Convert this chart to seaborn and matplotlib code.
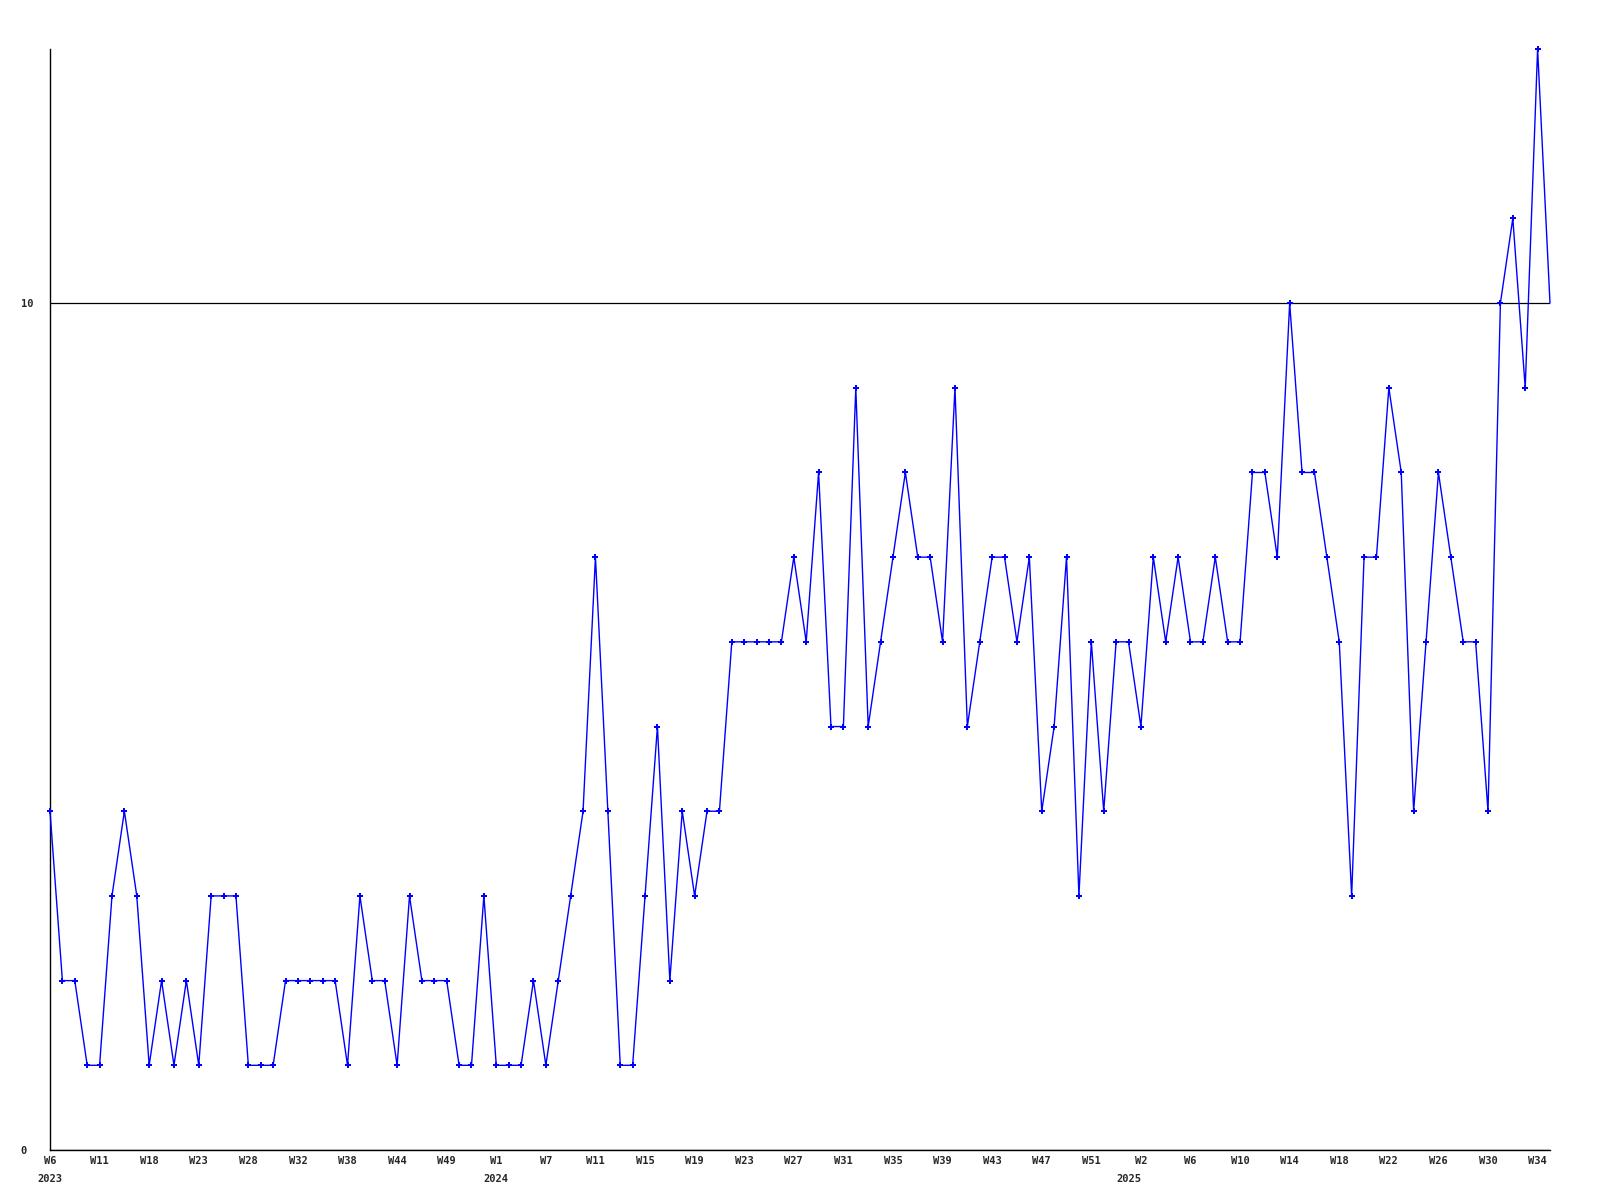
import matplotlib
matplotlib.use("Agg")
import matplotlib.pyplot as plt
import matplotlib.transforms as mtransforms
import seaborn as sns
import pandas as pd
import numpy as np

# ---- data ----
values = [4, 2, 2, 1, 1, 3, 4, 3, 1, 2, 1, 2, 1, 3, 3, 3, 1, 1, 1, 2,
          2, 2, 2, 2, 1, 3, 2, 2, 1, 3, 2, 2, 2, 1, 1, 3, 1, 1, 1, 2,
          1, 2, 3, 4, 7, 4, 1, 1, 3, 5, 2, 4, 3, 4, 4, 6, 6, 6, 6, 6,
          7, 6, 8, 5, 5, 9, 5, 6, 7, 8, 7, 7, 6, 9, 5, 6, 7, 7, 6, 7,
          4, 5, 7, 3, 6, 4, 6, 6, 5, 7, 6, 7, 6, 6, 7, 6, 6, 8, 8, 7,
          10, 8, 8, 7, 6, 3, 7, 7, 9, 8, 4, 6, 8, 7, 6, 6, 4, 10, 11, 9,
          13, 10]
tick_labels = ["W6", "W11", "W18", "W23", "W28", "W32", "W38", "W44", "W49",
               "W1", "W7", "W11", "W15", "W19", "W23", "W27", "W31", "W35",
               "W39", "W43", "W47", "W51", "W2", "W6", "W10", "W14", "W18",
               "W22", "W26", "W30", "W34"]
tick_step = 4
year_labels = ["2023", "2024", "2025"]
year_start_idx = [0, 36, 87]
y_ticks = [0, 10]

df = pd.DataFrame({"idx": np.arange(len(values)), "value": values})

sns.set_style("white")
plt.rcParams["font.family"] = ["DejaVu Sans Mono", "DejaVu Sans"]

fig = plt.figure(figsize=(16, 12), dpi=100)
ax = fig.add_axes([0.03125, 0.04167, 0.9375, 0.9175])

sns.lineplot(data=df, x="idx", y="value", ax=ax, color="#0000FF",
             linewidth=1.0, marker="P", markersize=4,
             markeredgewidth=0, clip_on=False, zorder=3,
             markevery=list(range(len(values) - 1)))

ax.set_xlim(0, len(values) - 1)
ax.set_ylim(0, 13)

tick_pos = list(range(0, len(values), tick_step))[:len(tick_labels)]
ax.set_xticks(tick_pos)
ax.set_xticklabels(tick_labels, fontsize=7.5, fontweight="bold")
ax.set_yticks(y_ticks)
ax.set_yticklabels([str(v) for v in y_ticks], fontsize=7.5, fontweight="bold")
for lab in ax.get_yticklabels():
    lab.set_horizontalalignment("left")
ax.tick_params(axis="y", length=0, pad=21)
ax.tick_params(axis="x", length=0, pad=4)

ax.set_xlabel("")
ax.set_ylabel("")

ax.yaxis.grid(True, color="black", linewidth=0.9)
ax.xaxis.grid(False)
ax.set_axisbelow(True)

for side in ["top", "right"]:
    ax.spines[side].set_visible(False)
for side in ["left", "bottom"]:
    ax.spines[side].set_color("black")
    ax.spines[side].set_linewidth(1.0)

trans = mtransforms.blended_transform_factory(ax.transData, ax.transAxes)
for lab, pos in zip(year_labels, year_start_idx):
    ax.text(pos, -0.0215, lab, transform=trans, ha="center", va="top",
            fontsize=7.5, fontweight="bold")

fig.savefig("out.png", dpi=100, facecolor="white")
